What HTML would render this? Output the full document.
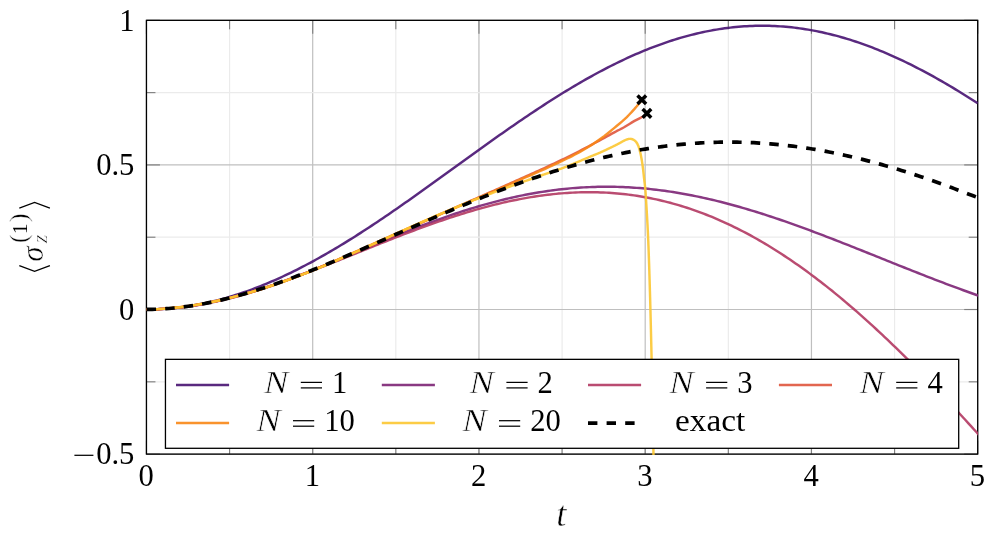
<!DOCTYPE html>
<html><head><meta charset="utf-8"><title>plot</title>
<style>html,body{margin:0;padding:0;background:#fff;}svg{display:block;will-change:transform;}text{font-family:"Liberation Serif",serif;fill:#000;}.it{font-style:italic;stroke:#fff;stroke-width:0.5px;}.th{stroke:#fff;stroke-width:0.45px;}</style></head><body>
<svg width="996" height="536" viewBox="0 0 996 536">
<rect width="996" height="536" fill="#fff"/>
<g stroke-width="1.2"><g stroke="#ebebeb"><line x1="229.57" y1="20.32" x2="229.57" y2="454.12"/><line x1="395.82" y1="20.32" x2="395.82" y2="454.12"/><line x1="562.08" y1="20.32" x2="562.08" y2="454.12"/><line x1="728.33" y1="20.32" x2="728.33" y2="454.12"/><line x1="894.58" y1="20.32" x2="894.58" y2="454.12"/></g><g stroke="#bfbfbf"><line x1="146.45" y1="20.32" x2="146.45" y2="454.12"/><line x1="312.70" y1="20.32" x2="312.70" y2="454.12"/><line x1="478.95" y1="20.32" x2="478.95" y2="454.12"/><line x1="645.20" y1="20.32" x2="645.20" y2="454.12"/><line x1="811.45" y1="20.32" x2="811.45" y2="454.12"/><line x1="977.70" y1="20.32" x2="977.70" y2="454.12"/></g><g stroke="#ebebeb"><line x1="146.45" y1="381.82" x2="977.7" y2="381.82"/><line x1="146.45" y1="237.22" x2="977.7" y2="237.22"/><line x1="146.45" y1="92.62" x2="977.7" y2="92.62"/></g><g stroke="#bfbfbf"><line x1="146.45" y1="454.12" x2="977.7" y2="454.12"/><line x1="146.45" y1="309.52" x2="977.7" y2="309.52"/><line x1="146.45" y1="164.92" x2="977.7" y2="164.92"/><line x1="146.45" y1="20.32" x2="977.7" y2="20.32"/></g></g>
<g stroke="#808080" stroke-width="1.15"><line x1="146.45" y1="454.12" x2="146.45" y2="440.62"/><line x1="146.45" y1="20.32" x2="146.45" y2="33.82"/><line x1="229.57" y1="454.12" x2="229.57" y2="445.12"/><line x1="229.57" y1="20.32" x2="229.57" y2="29.32"/><line x1="312.70" y1="454.12" x2="312.70" y2="440.62"/><line x1="312.70" y1="20.32" x2="312.70" y2="33.82"/><line x1="395.82" y1="454.12" x2="395.82" y2="445.12"/><line x1="395.82" y1="20.32" x2="395.82" y2="29.32"/><line x1="478.95" y1="454.12" x2="478.95" y2="440.62"/><line x1="478.95" y1="20.32" x2="478.95" y2="33.82"/><line x1="562.08" y1="454.12" x2="562.08" y2="445.12"/><line x1="562.08" y1="20.32" x2="562.08" y2="29.32"/><line x1="645.20" y1="454.12" x2="645.20" y2="440.62"/><line x1="645.20" y1="20.32" x2="645.20" y2="33.82"/><line x1="728.33" y1="454.12" x2="728.33" y2="445.12"/><line x1="728.33" y1="20.32" x2="728.33" y2="29.32"/><line x1="811.45" y1="454.12" x2="811.45" y2="440.62"/><line x1="811.45" y1="20.32" x2="811.45" y2="33.82"/><line x1="894.58" y1="454.12" x2="894.58" y2="445.12"/><line x1="894.58" y1="20.32" x2="894.58" y2="29.32"/><line x1="977.70" y1="454.12" x2="977.70" y2="440.62"/><line x1="977.70" y1="20.32" x2="977.70" y2="33.82"/><line x1="146.45" y1="454.12" x2="159.95" y2="454.12"/><line x1="977.7" y1="454.12" x2="964.20" y2="454.12"/><line x1="146.45" y1="381.82" x2="155.45" y2="381.82"/><line x1="977.7" y1="381.82" x2="968.70" y2="381.82"/><line x1="146.45" y1="309.52" x2="159.95" y2="309.52"/><line x1="977.7" y1="309.52" x2="964.20" y2="309.52"/><line x1="146.45" y1="237.22" x2="155.45" y2="237.22"/><line x1="977.7" y1="237.22" x2="968.70" y2="237.22"/><line x1="146.45" y1="164.92" x2="159.95" y2="164.92"/><line x1="977.7" y1="164.92" x2="964.20" y2="164.92"/><line x1="146.45" y1="92.62" x2="155.45" y2="92.62"/><line x1="977.7" y1="92.62" x2="968.70" y2="92.62"/><line x1="146.45" y1="20.32" x2="159.95" y2="20.32"/><line x1="977.7" y1="20.32" x2="964.20" y2="20.32"/></g>
<rect x="146.45" y="20.32" width="831.25" height="433.80" fill="none" stroke="#000" stroke-width="1.3"/>
<clipPath id="cp"><rect x="146" y="20" width="832" height="435"/></clipPath>
<g clip-path="url(#cp)" fill="none" stroke-linejoin="round">
<path d="M146.60,309.40 L149.38,309.39 L152.16,309.34 L154.94,309.27 L157.72,309.17 L160.50,309.04 L163.28,308.89 L166.06,308.70 L168.84,308.49 L171.62,308.25 L174.40,307.98 L177.18,307.68 L179.96,307.35 L182.73,307.00 L185.51,306.61 L188.29,306.20 L191.07,305.76 L193.85,305.30 L196.63,304.80 L199.41,304.28 L202.19,303.73 L204.97,303.15 L207.75,302.55 L210.53,301.92 L213.31,301.26 L216.09,300.57 L218.87,299.86 L221.65,299.12 L224.43,298.36 L227.21,297.57 L229.99,296.75 L232.77,295.91 L235.55,295.04 L238.33,294.14 L241.11,293.22 L243.89,292.27 L246.67,291.30 L249.45,290.31 L252.22,289.29 L255.00,288.24 L257.78,287.17 L260.56,286.08 L263.34,284.96 L266.12,283.82 L268.90,282.66 L271.68,281.47 L274.46,280.26 L277.24,279.03 L280.02,277.77 L282.80,276.49 L285.58,275.19 L288.36,273.87 L291.14,272.53 L293.92,271.17 L296.70,269.78 L299.48,268.38 L302.26,266.95 L305.04,265.51 L307.82,264.04 L310.60,262.56 L313.38,261.05 L316.16,259.53 L318.94,257.99 L321.71,256.43 L324.49,254.85 L327.27,253.26 L330.05,251.65 L332.83,250.02 L335.61,248.37 L338.39,246.71 L341.17,245.03 L343.95,243.34 L346.73,241.63 L349.51,239.91 L352.29,238.17 L355.07,236.42 L357.85,234.65 L360.63,232.87 L363.41,231.08 L366.19,229.28 L368.97,227.46 L371.75,225.63 L374.53,223.79 L377.31,221.93 L380.09,220.07 L382.87,218.20 L385.65,216.31 L388.43,214.42 L391.20,212.51 L393.98,210.60 L396.76,208.68 L399.54,206.75 L402.32,204.81 L405.10,202.87 L407.88,200.91 L410.66,198.96 L413.44,196.99 L416.22,195.02 L419.00,193.04 L421.78,191.06 L424.56,189.07 L427.34,187.08 L430.12,185.09 L432.90,183.09 L435.68,181.09 L438.46,179.08 L441.24,177.08 L444.02,175.07 L446.80,173.06 L449.58,171.05 L452.36,169.04 L455.14,167.03 L457.92,165.01 L460.69,163.00 L463.47,160.99 L466.25,158.98 L469.03,156.98 L471.81,154.97 L474.59,152.97 L477.37,150.97 L480.15,148.97 L482.93,146.98 L485.71,144.99 L488.49,143.01 L491.27,141.03 L494.05,139.05 L496.83,137.09 L499.61,135.12 L502.39,133.17 L505.17,131.22 L507.95,129.28 L510.73,127.35 L513.51,125.42 L516.29,123.50 L519.07,121.60 L521.85,119.70 L524.63,117.81 L527.41,115.93 L530.18,114.06 L532.96,112.20 L535.74,110.36 L538.52,108.52 L541.30,106.70 L544.08,104.89 L546.86,103.09 L549.64,101.30 L552.42,99.53 L555.20,97.77 L557.98,96.03 L560.76,94.30 L563.54,92.58 L566.32,90.88 L569.10,89.20 L571.88,87.53 L574.66,85.88 L577.44,84.24 L580.22,82.62 L583.00,81.02 L585.78,79.43 L588.56,77.86 L591.34,76.31 L594.12,74.78 L596.89,73.27 L599.67,71.78 L602.45,70.30 L605.23,68.85 L608.01,67.42 L610.79,66.00 L613.57,64.61 L616.35,63.23 L619.13,61.88 L621.91,60.55 L624.69,59.24 L627.47,57.95 L630.25,56.69 L633.03,55.44 L635.81,54.22 L638.59,53.03 L641.37,51.85 L644.15,50.70 L646.93,49.57 L649.71,48.47 L652.49,47.39 L655.27,46.33 L658.05,45.30 L660.83,44.29 L663.61,43.31 L666.38,42.35 L669.16,41.42 L671.94,40.51 L674.72,39.63 L677.50,38.78 L680.28,37.95 L683.06,37.14 L685.84,36.37 L688.62,35.61 L691.40,34.89 L694.18,34.19 L696.96,33.52 L699.74,32.88 L702.52,32.26 L705.30,31.67 L708.08,31.11 L710.86,30.58 L713.64,30.07 L716.42,29.59 L719.20,29.14 L721.98,28.71 L724.76,28.32 L727.54,27.95 L730.32,27.61 L733.10,27.30 L735.87,27.02 L738.65,26.76 L741.43,26.53 L744.21,26.34 L746.99,26.17 L749.77,26.02 L752.55,25.91 L755.33,25.83 L758.11,25.77 L760.89,25.74 L763.67,25.75 L766.45,25.78 L769.23,25.83 L772.01,25.92 L774.79,26.04 L777.57,26.18 L780.35,26.35 L783.13,26.55 L785.91,26.78 L788.69,27.04 L791.47,27.32 L794.25,27.64 L797.03,27.98 L799.81,28.35 L802.59,28.75 L805.36,29.17 L808.14,29.63 L810.92,30.11 L813.70,30.62 L816.48,31.16 L819.26,31.72 L822.04,32.31 L824.82,32.93 L827.60,33.58 L830.38,34.25 L833.16,34.95 L835.94,35.68 L838.72,36.43 L841.50,37.21 L844.28,38.01 L847.06,38.85 L849.84,39.70 L852.62,40.59 L855.40,41.50 L858.18,42.43 L860.96,43.39 L863.74,44.37 L866.52,45.38 L869.30,46.42 L872.08,47.48 L874.85,48.56 L877.63,49.66 L880.41,50.79 L883.19,51.95 L885.97,53.13 L888.75,54.33 L891.53,55.55 L894.31,56.79 L897.09,58.06 L899.87,59.35 L902.65,60.66 L905.43,61.99 L908.21,63.35 L910.99,64.72 L913.77,66.12 L916.55,67.54 L919.33,68.97 L922.11,70.43 L924.89,71.90 L927.67,73.40 L930.45,74.91 L933.23,76.44 L936.01,78.00 L938.79,79.56 L941.57,81.15 L944.34,82.75 L947.12,84.38 L949.90,86.01 L952.68,87.67 L955.46,89.34 L958.24,91.02 L961.02,92.73 L963.80,94.44 L966.58,96.17 L969.36,97.92 L972.14,99.68 L974.92,101.45 L977.70,103.24" stroke="#471271" stroke-opacity="0.9" stroke-width="2.45"/>
<path d="M146.60,309.40 L149.39,309.39 L152.17,309.35 L154.96,309.28 L157.74,309.19 L160.53,309.07 L163.31,308.93 L166.10,308.76 L168.88,308.56 L171.67,308.34 L174.45,308.09 L177.24,307.82 L180.02,307.52 L182.81,307.20 L185.59,306.86 L188.38,306.49 L191.16,306.09 L193.95,305.67 L196.73,305.23 L199.52,304.76 L202.30,304.28 L205.09,303.76 L207.87,303.23 L210.66,302.67 L213.44,302.10 L216.23,301.50 L219.01,300.88 L221.80,300.23 L224.58,299.57 L227.37,298.89 L230.15,298.19 L232.94,297.47 L235.73,296.73 L238.51,295.97 L241.30,295.19 L244.08,294.39 L246.87,293.58 L249.65,292.75 L252.44,291.90 L255.22,291.04 L258.01,290.16 L260.79,289.26 L263.58,288.35 L266.36,287.43 L269.15,286.49 L271.93,285.54 L274.72,284.57 L277.50,283.59 L280.29,282.60 L283.07,281.59 L285.86,280.58 L288.64,279.55 L291.43,278.51 L294.21,277.46 L297.00,276.41 L299.78,275.34 L302.57,274.26 L305.35,273.17 L308.14,272.08 L310.92,270.98 L313.71,269.87 L316.49,268.75 L319.28,267.63 L322.06,266.50 L324.85,265.37 L327.64,264.23 L330.42,263.09 L333.21,261.94 L335.99,260.79 L338.78,259.63 L341.56,258.47 L344.35,257.31 L347.13,256.15 L349.92,254.99 L352.70,253.82 L355.49,252.65 L358.27,251.49 L361.06,250.32 L363.84,249.16 L366.63,247.99 L369.41,246.83 L372.20,245.67 L374.98,244.51 L377.77,243.35 L380.55,242.20 L383.34,241.05 L386.12,239.90 L388.91,238.76 L391.69,237.62 L394.48,236.48 L397.26,235.36 L400.05,234.23 L402.83,233.12 L405.62,232.01 L408.40,230.90 L411.19,229.81 L413.98,228.72 L416.76,227.64 L419.55,226.57 L422.33,225.50 L425.12,224.45 L427.90,223.40 L430.69,222.37 L433.47,221.34 L436.26,220.32 L439.04,219.32 L441.83,218.32 L444.61,217.34 L447.40,216.37 L450.18,215.40 L452.97,214.46 L455.75,213.52 L458.54,212.59 L461.32,211.68 L464.11,210.79 L466.89,209.90 L469.68,209.03 L472.46,208.17 L475.25,207.33 L478.03,206.50 L480.82,205.68 L483.60,204.88 L486.39,204.10 L489.17,203.33 L491.96,202.58 L494.74,201.84 L497.53,201.11 L500.32,200.41 L503.10,199.72 L505.89,199.04 L508.67,198.39 L511.46,197.75 L514.24,197.12 L517.03,196.51 L519.81,195.92 L522.60,195.35 L525.38,194.80 L528.17,194.26 L530.95,193.74 L533.74,193.24 L536.52,192.76 L539.31,192.29 L542.09,191.84 L544.88,191.42 L547.66,191.01 L550.45,190.61 L553.23,190.24 L556.02,189.89 L558.80,189.55 L561.59,189.23 L564.37,188.94 L567.16,188.66 L569.94,188.40 L572.73,188.15 L575.51,187.93 L578.30,187.73 L581.08,187.55 L583.87,187.38 L586.65,187.24 L589.44,187.11 L592.23,187.00 L595.01,186.91 L597.80,186.84 L600.58,186.79 L603.37,186.76 L606.15,186.75 L608.94,186.76 L611.72,186.79 L614.51,186.83 L617.29,186.90 L620.08,186.98 L622.86,187.08 L625.65,187.20 L628.43,187.34 L631.22,187.50 L634.00,187.68 L636.79,187.87 L639.57,188.09 L642.36,188.32 L645.14,188.57 L647.93,188.84 L650.71,189.13 L653.50,189.43 L656.28,189.76 L659.07,190.10 L661.85,190.45 L664.64,190.83 L667.42,191.22 L670.21,191.63 L672.99,192.06 L675.78,192.50 L678.57,192.97 L681.35,193.44 L684.14,193.94 L686.92,194.45 L689.71,194.98 L692.49,195.52 L695.28,196.08 L698.06,196.65 L700.85,197.24 L703.63,197.85 L706.42,198.47 L709.20,199.10 L711.99,199.75 L714.77,200.42 L717.56,201.10 L720.34,201.79 L723.13,202.50 L725.91,203.22 L728.70,203.96 L731.48,204.71 L734.27,205.47 L737.05,206.24 L739.84,207.03 L742.62,207.83 L745.41,208.64 L748.19,209.47 L750.98,210.31 L753.76,211.15 L756.55,212.01 L759.33,212.89 L762.12,213.77 L764.91,214.66 L767.69,215.56 L770.48,216.48 L773.26,217.40 L776.05,218.33 L778.83,219.28 L781.62,220.23 L784.40,221.19 L787.19,222.16 L789.97,223.14 L792.76,224.13 L795.54,225.12 L798.33,226.12 L801.11,227.13 L803.90,228.15 L806.68,229.18 L809.47,230.21 L812.25,231.25 L815.04,232.29 L817.82,233.34 L820.61,234.40 L823.39,235.46 L826.18,236.53 L828.96,237.60 L831.75,238.68 L834.53,239.76 L837.32,240.84 L840.10,241.93 L842.89,243.02 L845.67,244.12 L848.46,245.22 L851.24,246.32 L854.03,247.43 L856.82,248.54 L859.60,249.65 L862.39,250.76 L865.17,251.87 L867.96,252.99 L870.74,254.10 L873.53,255.22 L876.31,256.34 L879.10,257.45 L881.88,258.57 L884.67,259.69 L887.45,260.81 L890.24,261.93 L893.02,263.04 L895.81,264.16 L898.59,265.27 L901.38,266.38 L904.16,267.49 L906.95,268.60 L909.73,269.71 L912.52,270.81 L915.30,271.91 L918.09,273.01 L920.87,274.10 L923.66,275.19 L926.44,276.28 L929.23,277.36 L932.01,278.44 L934.80,279.52 L937.58,280.59 L940.37,281.65 L943.16,282.71 L945.94,283.77 L948.73,284.82 L951.51,285.86 L954.30,286.90 L957.08,287.93 L959.87,288.96 L962.65,289.98 L965.44,290.99 L968.22,292.00 L971.01,293.00 L973.79,293.99 L976.58,294.98 L979.36,295.95" stroke="#7c2374" stroke-opacity="0.9" stroke-width="2.45"/>
<path d="M146.60,309.40 L149.39,309.39 L152.17,309.34 L154.96,309.27 L157.74,309.17 L160.53,309.04 L163.31,308.89 L166.10,308.70 L168.88,308.49 L171.67,308.26 L174.45,307.99 L177.24,307.71 L180.02,307.39 L182.81,307.05 L185.59,306.69 L188.38,306.30 L191.16,305.89 L193.95,305.46 L196.73,305.00 L199.52,304.52 L202.30,304.02 L205.09,303.49 L207.87,302.95 L210.66,302.38 L213.44,301.79 L216.23,301.18 L219.01,300.55 L221.80,299.90 L224.58,299.24 L227.37,298.55 L230.15,297.85 L232.94,297.12 L235.73,296.38 L238.51,295.63 L241.30,294.85 L244.08,294.06 L246.87,293.25 L249.65,292.43 L252.44,291.59 L255.22,290.74 L258.01,289.87 L260.79,288.99 L263.58,288.10 L266.36,287.19 L269.15,286.27 L271.93,285.34 L274.72,284.39 L277.50,283.43 L280.29,282.46 L283.07,281.49 L285.86,280.50 L288.64,279.50 L291.43,278.49 L294.21,277.47 L297.00,276.44 L299.78,275.41 L302.57,274.36 L305.35,273.31 L308.14,272.25 L310.92,271.19 L313.71,270.11 L316.49,269.04 L319.28,267.95 L322.06,266.86 L324.85,265.77 L327.64,264.67 L330.42,263.57 L333.21,262.46 L335.99,261.35 L338.78,260.24 L341.56,259.13 L344.35,258.01 L347.13,256.89 L349.92,255.77 L352.70,254.65 L355.49,253.53 L358.27,252.41 L361.06,251.28 L363.84,250.16 L366.63,249.04 L369.41,247.92 L372.20,246.81 L374.98,245.69 L377.77,244.58 L380.55,243.47 L383.34,242.36 L386.12,241.26 L388.91,240.16 L391.69,239.06 L394.48,237.97 L397.26,236.89 L400.05,235.81 L402.83,234.73 L405.62,233.67 L408.40,232.60 L411.19,231.55 L413.98,230.50 L416.76,229.46 L419.55,228.43 L422.33,227.40 L425.12,226.39 L427.90,225.38 L430.69,224.38 L433.47,223.39 L436.26,222.41 L439.04,221.44 L441.83,220.48 L444.61,219.54 L447.40,218.60 L450.18,217.67 L452.97,216.76 L455.75,215.86 L458.54,214.97 L461.32,214.09 L464.11,213.23 L466.89,212.38 L469.68,211.54 L472.46,210.72 L475.25,209.91 L478.03,209.12 L480.82,208.34 L483.60,207.57 L486.39,206.82 L489.17,206.09 L491.96,205.37 L494.74,204.67 L497.53,203.99 L500.32,203.32 L503.10,202.67 L505.89,202.03 L508.67,201.42 L511.46,200.82 L514.24,200.24 L517.03,199.68 L519.81,199.13 L522.60,198.61 L525.38,198.10 L528.17,197.61 L530.95,197.15 L533.74,196.70 L536.52,196.27 L539.31,195.86 L542.09,195.48 L544.88,195.11 L547.66,194.76 L550.45,194.44 L553.23,194.13 L556.02,193.85 L558.80,193.59 L561.59,193.35 L564.37,193.14 L567.16,192.94 L569.94,192.77 L572.73,192.62 L575.51,192.49 L578.30,192.39 L581.08,192.31 L583.87,192.25 L586.65,192.22 L589.44,192.21 L592.23,192.22 L595.01,192.26 L597.80,192.32 L600.58,192.41 L603.37,192.52 L606.15,192.65 L608.94,192.81 L611.72,193.00 L614.51,193.21 L617.29,193.44 L620.08,193.70 L622.86,193.99 L625.65,194.30 L628.43,194.63 L631.22,195.00 L634.00,195.38 L636.79,195.80 L639.57,196.24 L642.36,196.70 L645.14,197.19 L647.93,197.71 L650.71,198.26 L653.50,198.83 L656.28,199.42 L659.07,200.05 L661.85,200.70 L664.64,201.37 L667.42,202.08 L670.21,202.81 L672.99,203.56 L675.78,204.35 L678.57,205.16 L681.35,205.99 L684.14,206.86 L686.92,207.75 L689.71,208.67 L692.49,209.61 L695.28,210.58 L698.06,211.58 L700.85,212.61 L703.63,213.66 L706.42,214.74 L709.20,215.85 L711.99,216.99 L714.77,218.15 L717.56,219.34 L720.34,220.55 L723.13,221.80 L725.91,223.07 L728.70,224.36 L731.48,225.69 L734.27,227.04 L737.05,228.41 L739.84,229.82 L742.62,231.25 L745.41,232.70 L748.19,234.19 L750.98,235.70 L753.76,237.23 L756.55,238.80 L759.33,240.39 L762.12,242.00 L764.91,243.64 L767.69,245.31 L770.48,247.00 L773.26,248.72 L776.05,250.47 L778.83,252.24 L781.62,254.04 L784.40,255.86 L787.19,257.70 L789.97,259.58 L792.76,261.47 L795.54,263.40 L798.33,265.34 L801.11,267.31 L803.90,269.31 L806.68,271.33 L809.47,273.37 L812.25,275.44 L815.04,277.54 L817.82,279.65 L820.61,281.79 L823.39,283.95 L826.18,286.14 L828.96,288.35 L831.75,290.58 L834.53,292.84 L837.32,295.11 L840.10,297.41 L842.89,299.73 L845.67,302.08 L848.46,304.44 L851.24,306.83 L854.03,309.24 L856.82,311.67 L859.60,314.12 L862.39,316.59 L865.17,319.08 L867.96,321.59 L870.74,324.12 L873.53,326.67 L876.31,329.24 L879.10,331.83 L881.88,334.43 L884.67,337.06 L887.45,339.70 L890.24,342.37 L893.02,345.05 L895.81,347.74 L898.59,350.46 L901.38,353.19 L904.16,355.94 L906.95,358.71 L909.73,361.49 L912.52,364.29 L915.30,367.10 L918.09,369.93 L920.87,372.77 L923.66,375.63 L926.44,378.50 L929.23,381.39 L932.01,384.29 L934.80,387.20 L937.58,390.13 L940.37,393.06 L943.16,396.02 L945.94,398.98 L948.73,401.96 L951.51,404.94 L954.30,407.94 L957.08,410.95 L959.87,413.97 L962.65,417.00 L965.44,420.03 L968.22,423.08 L971.01,426.14 L973.79,429.20 L976.58,432.28 L979.36,435.36" stroke="#b23862" stroke-opacity="0.9" stroke-width="2.45"/>
<path d="M146.60,309.40 L149.12,309.40 L151.63,309.37 L154.15,309.31 L156.66,309.23 L159.18,309.13 L161.69,309.00 L164.21,308.85 L166.72,308.67 L169.24,308.48 L171.75,308.26 L174.27,308.02 L176.78,307.77 L179.30,307.49 L181.81,307.19 L184.33,306.87 L186.84,306.53 L189.36,306.17 L191.87,305.80 L194.39,305.41 L196.90,304.99 L199.42,304.56 L201.93,304.12 L204.45,303.65 L206.96,303.17 L209.48,302.67 L211.99,302.15 L214.51,301.62 L217.02,301.07 L219.54,300.51 L222.05,299.93 L224.57,299.33 L227.08,298.72 L229.60,298.10 L232.11,297.45 L234.63,296.80 L237.14,296.13 L239.66,295.44 L242.17,294.74 L244.69,294.03 L247.20,293.30 L249.72,292.56 L252.23,291.81 L254.75,291.04 L257.26,290.26 L259.78,289.47 L262.29,288.66 L264.81,287.85 L267.32,287.02 L269.84,286.18 L272.35,285.32 L274.87,284.46 L277.38,283.58 L279.90,282.70 L282.41,281.80 L284.93,280.89 L287.44,279.97 L289.96,279.05 L292.47,278.11 L294.99,277.16 L297.50,276.20 L300.02,275.24 L302.53,274.26 L305.05,273.28 L307.56,272.29 L310.08,271.29 L312.59,270.29 L315.11,269.26 L317.62,268.23 L320.14,267.20 L322.65,266.15 L325.17,265.10 L327.68,264.05 L330.20,262.99 L332.71,261.92 L335.23,260.85 L337.74,259.77 L340.26,258.69 L342.77,257.60 L345.29,256.51 L347.80,255.41 L350.32,254.32 L352.83,253.21 L355.35,252.11 L357.86,251.00 L360.38,249.89 L362.89,248.77 L365.41,247.66 L367.92,246.54 L370.44,245.42 L372.95,244.30 L375.47,243.18 L377.98,242.05 L380.50,240.93 L383.01,239.80 L385.53,238.67 L388.04,237.55 L390.56,236.42 L393.07,235.29 L395.59,234.16 L398.10,233.04 L400.62,231.91 L403.13,230.78 L405.65,229.66 L408.16,228.53 L410.68,227.41 L413.19,226.28 L415.71,225.16 L418.22,224.04 L420.74,222.92 L423.25,221.80 L425.77,220.68 L428.28,219.56 L430.80,218.45 L433.31,217.33 L435.83,216.22 L438.34,215.11 L440.86,213.99 L443.37,212.88 L445.89,211.78 L448.40,210.67 L450.92,209.56 L453.43,208.45 L455.95,207.35 L458.46,206.24 L460.98,205.14 L463.49,204.03 L466.01,202.93 L468.52,201.83 L471.04,200.72 L473.55,199.62 L476.07,198.52 L478.58,197.41 L481.10,196.31 L483.61,195.20 L486.13,194.09 L488.64,192.98 L491.16,191.87 L493.67,190.76 L496.19,189.65 L498.70,188.53 L501.22,187.41 L503.73,186.29 L506.25,185.17 L508.76,184.04 L511.28,182.91 L513.79,181.78 L516.31,180.64 L518.82,179.50 L521.34,178.38 L523.85,177.28 L526.37,176.17 L528.88,175.06 L531.40,173.94 L533.91,172.81 L536.43,171.68 L538.94,170.54 L541.46,169.40 L543.97,168.24 L546.49,167.08 L549.00,165.91 L551.52,164.73 L554.03,163.55 L556.55,162.36 L559.06,161.15 L561.58,159.95 L564.09,158.73 L566.61,157.52 L569.12,156.29 L571.64,155.05 L574.15,153.80 L576.67,152.54 L579.18,151.25 L581.70,149.95 L584.21,148.63 L586.73,147.31 L589.24,145.97 L591.76,144.63 L594.27,143.28 L596.79,141.92 L599.30,140.56 L601.82,139.19 L604.33,137.82 L606.85,136.45 L609.36,135.07 L611.88,133.69 L614.39,132.32 L616.91,130.97 L619.42,129.73 L621.94,128.46 L624.45,127.04 L626.97,125.52 L629.48,123.95 L632.00,122.40 L634.51,120.93 L637.03,119.60 L639.54,118.30 L642.06,117.03 L644.57,115.76 L647.09,114.52" stroke="#df553d" stroke-opacity="0.9" stroke-width="2.45"/>
<path d="M146.60,309.40 L149.09,309.39 L151.58,309.35 L154.06,309.28 L156.55,309.17 L159.04,309.05 L161.53,308.89 L164.02,308.71 L166.51,308.52 L168.99,308.29 L171.48,308.05 L173.97,307.79 L176.46,307.52 L178.95,307.22 L181.44,306.91 L183.92,306.58 L186.41,306.24 L188.90,305.88 L191.39,305.51 L193.88,305.12 L196.37,304.72 L198.85,304.30 L201.34,303.87 L203.83,303.42 L206.32,302.96 L208.81,302.49 L211.30,302.00 L213.78,301.50 L216.27,300.99 L218.76,300.46 L221.25,299.91 L223.74,299.35 L226.23,298.78 L228.71,298.19 L231.20,297.59 L233.69,296.98 L236.18,296.35 L238.67,295.70 L241.15,295.04 L243.64,294.37 L246.13,293.68 L248.62,292.98 L251.11,292.26 L253.60,291.53 L256.08,290.78 L258.57,290.02 L261.06,289.25 L263.55,288.46 L266.04,287.65 L268.53,286.84 L271.01,286.01 L273.50,285.16 L275.99,284.31 L278.48,283.44 L280.97,282.56 L283.46,281.66 L285.94,280.76 L288.43,279.84 L290.92,278.91 L293.41,277.97 L295.90,277.01 L298.39,276.05 L300.87,275.08 L303.36,274.10 L305.85,273.11 L308.34,272.10 L310.83,271.09 L313.32,270.08 L315.80,269.04 L318.29,268.00 L320.78,266.95 L323.27,265.89 L325.76,264.83 L328.25,263.76 L330.73,262.69 L333.22,261.61 L335.71,260.53 L338.20,259.44 L340.69,258.35 L343.17,257.25 L345.66,256.15 L348.15,255.05 L350.64,253.94 L353.13,252.84 L355.62,251.73 L358.10,250.62 L360.59,249.51 L363.08,248.39 L365.57,247.28 L368.06,246.17 L370.55,245.05 L373.03,243.94 L375.52,242.82 L378.01,241.71 L380.50,240.60 L382.99,239.48 L385.48,238.37 L387.96,237.26 L390.45,236.15 L392.94,235.04 L395.43,233.94 L397.92,232.83 L400.41,231.73 L402.89,230.63 L405.38,229.53 L407.87,228.43 L410.36,227.34 L412.85,226.24 L415.34,225.15 L417.82,224.06 L420.31,222.97 L422.80,221.89 L425.29,220.80 L427.78,219.72 L430.26,218.64 L432.75,217.56 L435.24,216.48 L437.73,215.40 L440.22,214.33 L442.71,213.25 L445.19,212.18 L447.68,211.11 L450.17,210.03 L452.66,208.96 L455.15,207.89 L457.64,206.82 L460.12,205.76 L462.61,204.69 L465.10,203.62 L467.59,202.55 L470.08,201.48 L472.57,200.41 L475.05,199.34 L477.54,198.27 L480.03,197.20 L482.52,196.13 L485.01,195.06 L487.50,193.98 L489.98,192.91 L492.47,191.83 L494.96,190.75 L497.45,189.68 L499.94,188.59 L502.43,187.51 L504.91,186.43 L507.40,185.34 L509.89,184.25 L512.38,183.16 L514.87,182.06 L517.35,180.96 L519.84,179.86 L522.33,178.80 L524.82,177.73 L527.31,176.67 L529.80,175.59 L532.28,174.51 L534.77,173.42 L537.26,172.33 L539.75,171.23 L542.24,170.12 L544.73,169.01 L547.21,167.89 L549.70,166.75 L552.19,165.61 L554.68,164.46 L557.17,163.30 L559.66,162.12 L562.14,160.93 L564.63,159.73 L567.12,158.52 L569.61,157.29 L572.10,156.04 L574.59,154.77 L577.07,153.46 L579.56,152.13 L582.05,150.75 L584.54,149.30 L587.03,147.79 L589.52,146.24 L592.00,144.66 L594.49,143.02 L596.98,141.33 L599.47,139.57 L601.96,137.77 L604.45,135.91 L606.93,133.97 L609.42,131.96 L611.91,129.89 L614.40,127.82 L616.89,125.77 L619.37,123.73 L621.86,121.64 L624.35,119.42 L626.84,117.02 L629.33,114.50 L631.82,111.87 L634.30,109.11 L636.79,106.21 L639.28,103.17 L641.77,99.97" stroke="#f88716" stroke-opacity="0.9" stroke-width="2.45"/>
<path d="M146.60,309.40 L148.97,309.40 L151.35,309.37 L153.72,309.31 L156.10,309.23 L158.47,309.13 L160.85,309.01 L163.22,308.86 L165.60,308.70 L167.97,308.51 L170.35,308.30 L172.72,308.08 L175.10,307.83 L177.47,307.57 L179.85,307.29 L182.22,306.99 L184.60,306.68 L186.97,306.35 L189.34,306.00 L191.72,305.64 L194.09,305.26 L196.47,304.87 L198.84,304.46 L201.22,304.03 L203.59,303.60 L205.97,303.14 L208.34,302.68 L210.72,302.20 L213.09,301.70 L215.47,301.20 L217.84,300.68 L220.22,300.14 L222.59,299.60 L224.96,299.04 L227.34,298.46 L229.71,297.88 L232.09,297.28 L234.46,296.67 L236.84,296.05 L239.21,295.42 L241.59,294.78 L243.96,294.12 L246.34,293.45 L248.71,292.77 L251.09,292.08 L253.46,291.38 L255.84,290.66 L258.21,289.94 L260.59,289.20 L262.96,288.46 L265.33,287.70 L267.71,286.93 L270.08,286.15 L272.46,285.36 L274.83,284.56 L277.21,283.75 L279.58,282.93 L281.96,282.10 L284.33,281.26 L286.71,280.41 L289.08,279.55 L291.46,278.68 L293.83,277.81 L296.21,276.92 L298.58,276.02 L300.95,275.12 L303.33,274.20 L305.70,273.28 L308.08,272.35 L310.45,271.41 L312.83,270.46 L315.20,269.50 L317.58,268.53 L319.95,267.55 L322.33,266.57 L324.70,265.58 L327.08,264.58 L329.45,263.57 L331.83,262.56 L334.20,261.55 L336.58,260.52 L338.95,259.49 L341.32,258.46 L343.70,257.42 L346.07,256.38 L348.45,255.33 L350.82,254.27 L353.20,253.22 L355.57,252.16 L357.95,251.09 L360.32,250.02 L362.70,248.95 L365.07,247.88 L367.45,246.80 L369.82,245.72 L372.20,244.64 L374.57,243.56 L376.95,242.48 L379.32,241.39 L381.69,240.31 L384.07,239.22 L386.44,238.14 L388.82,237.05 L391.19,235.96 L393.57,234.88 L395.94,233.79 L398.32,232.71 L400.69,231.62 L403.07,230.54 L405.44,229.46 L407.82,228.39 L410.19,227.31 L412.57,226.24 L414.94,225.17 L417.31,224.10 L419.69,223.04 L422.06,221.98 L424.44,220.93 L426.81,219.87 L429.19,218.83 L431.56,217.78 L433.94,216.74 L436.31,215.71 L438.69,214.68 L441.06,213.66 L443.44,212.64 L445.81,211.63 L448.19,210.62 L450.56,209.61 L452.94,208.62 L455.31,207.63 L457.68,206.64 L460.06,205.66 L462.43,204.69 L464.81,203.72 L467.18,202.76 L469.56,201.81 L471.93,200.86 L474.31,199.92 L476.68,198.99 L479.06,198.06 L481.43,197.13 L483.81,196.22 L486.18,195.31 L488.56,194.40 L490.93,193.50 L493.30,192.61 L495.68,191.72 L498.05,190.84 L500.43,189.96 L502.80,189.09 L505.18,188.22 L507.55,187.36 L509.93,186.50 L512.30,185.65 L514.68,184.80 L517.05,183.95 L519.43,183.11 L521.80,182.27 L524.18,181.43 L526.55,180.59 L528.93,179.76 L531.30,178.93 L533.67,178.09 L536.05,177.26 L538.42,176.43 L540.80,175.60 L543.17,174.77 L543.49,174.66 L543.80,174.55 L544.12,174.45 L544.43,174.34 L544.75,174.23 L545.07,174.13 L545.38,174.02 L545.70,173.92 L546.01,173.81 L546.33,173.70 L546.64,173.60 L546.96,173.49 L547.28,173.39 L547.59,173.28 L547.91,173.18 L548.22,173.07 L548.54,172.97 L548.85,172.86 L549.17,172.75 L549.49,172.65 L549.80,172.54 L550.12,172.44 L550.43,172.33 L550.75,172.23 L551.06,172.12 L551.38,172.01 L551.69,171.91 L552.01,171.80 L552.33,171.70 L552.64,171.59 L552.96,171.48 L553.27,171.38 L553.59,171.27 L553.90,171.16 L554.22,171.05 L554.53,170.95 L554.85,170.84 L555.16,170.73 L555.48,170.62 L555.79,170.51 L556.11,170.40 L556.42,170.30 L556.73,170.19 L557.05,170.08 L557.36,169.97 L557.68,169.86 L557.99,169.75 L558.30,169.64 L558.62,169.52 L558.93,169.41 L559.25,169.30 L559.56,169.19 L559.87,169.08 L560.18,168.96 L560.50,168.85 L560.81,168.74 L561.12,168.62 L561.44,168.51 L561.75,168.39 L562.06,168.28 L562.37,168.16 L562.68,168.05 L562.99,167.93 L563.31,167.81 L563.62,167.69 L563.93,167.58 L564.24,167.46 L564.55,167.34 L564.86,167.22 L565.17,167.10 L565.48,166.98 L565.79,166.86 L566.10,166.74 L566.41,166.62 L566.72,166.50 L567.03,166.37 L567.34,166.25 L567.65,166.13 L567.96,166.01 L568.27,165.88 L568.58,165.76 L568.89,165.63 L569.20,165.51 L569.50,165.39 L569.81,165.26 L570.12,165.14 L570.43,165.01 L570.74,164.88 L571.05,164.76 L571.35,164.63 L571.66,164.51 L571.97,164.38 L572.28,164.25 L572.59,164.13 L572.89,164.00 L573.20,163.87 L573.51,163.74 L573.82,163.61 L574.12,163.49 L574.43,163.36 L574.74,163.23 L575.04,163.10 L575.35,162.97 L575.66,162.84 L575.96,162.71 L576.27,162.58 L576.58,162.45 L576.88,162.32 L577.19,162.19 L577.50,162.06 L577.80,161.93 L578.11,161.80 L578.42,161.67 L578.72,161.54 L579.03,161.41 L579.34,161.28 L579.64,161.15 L579.95,161.02 L580.25,160.89 L580.56,160.76 L580.87,160.63 L581.17,160.50 L581.48,160.37 L581.79,160.24 L582.09,160.11 L582.40,159.97 L582.70,159.84 L583.01,159.71 L583.32,159.58 L583.62,159.45 L583.93,159.32 L584.23,159.19 L584.54,159.06 L584.85,158.93 L585.15,158.80 L585.46,158.67 L585.76,158.54 L586.07,158.41 L586.38,158.28 L586.68,158.15 L586.99,158.02 L587.30,157.89 L587.60,157.76 L587.91,157.63 L588.21,157.50 L588.52,157.37 L588.83,157.24 L589.13,157.11 L589.44,156.98 L589.75,156.85 L590.06,156.72 L590.36,156.59 L590.67,156.46 L590.98,156.34 L591.28,156.21 L591.59,156.08 L591.90,155.95 L592.21,155.83 L592.51,155.70 L592.82,155.57 L593.13,155.45 L593.44,155.32 L593.75,155.19 L594.05,155.07 L594.36,154.94 L594.67,154.82 L594.98,154.69 L595.29,154.57 L595.60,154.44 L595.90,154.31 L596.21,154.19 L596.52,154.06 L596.83,153.94 L597.14,153.81 L597.44,153.68 L597.75,153.55 L598.06,153.43 L598.36,153.30 L598.67,153.17 L598.98,153.04 L599.28,152.91 L599.59,152.78 L599.90,152.65 L600.20,152.51 L600.51,152.38 L600.81,152.25 L601.11,152.11 L601.42,151.97 L601.72,151.84 L602.03,151.70 L602.33,151.56 L602.63,151.43 L602.93,151.29 L603.24,151.15 L603.54,151.01 L603.84,150.87 L604.14,150.73 L604.44,150.59 L604.75,150.45 L605.05,150.30 L605.35,150.16 L605.65,150.02 L605.95,149.88 L606.25,149.73 L606.55,149.59 L606.85,149.45 L607.15,149.31 L607.45,149.16 L607.75,149.02 L608.05,148.87 L608.35,148.73 L608.65,148.59 L608.95,148.44 L609.25,148.30 L609.55,148.16 L609.85,148.01 L610.15,147.87 L610.45,147.72 L610.75,147.58 L611.05,147.43 L611.35,147.29 L611.65,147.15 L611.95,147.00 L612.25,146.85 L612.55,146.71 L612.85,146.56 L613.15,146.42 L613.45,146.27 L613.75,146.12 L614.05,145.98 L614.34,145.83 L614.64,145.68 L614.94,145.53 L615.24,145.39 L615.54,145.24 L615.84,145.09 L616.14,144.94 L616.43,144.79 L616.73,144.64 L617.03,144.48 L617.32,144.33 L617.62,144.18 L617.91,144.03 L618.21,143.87 L618.50,143.71 L618.79,143.56 L619.09,143.40 L619.38,143.24 L619.67,143.08 L619.96,142.92 L620.25,142.76 L620.54,142.60 L620.83,142.43 L621.11,142.27 L621.40,142.11 L621.69,141.94 L621.98,141.78 L622.27,141.62 L622.56,141.46 L622.85,141.30 L623.14,141.14 L623.43,140.98 L623.73,140.83 L624.03,140.68 L624.32,140.53 L624.63,140.38 L624.93,140.24 L625.24,140.10 L625.55,139.97 L625.86,139.83 L626.18,139.71 L626.50,139.58 L626.82,139.47 L627.14,139.36 L627.47,139.26 L627.79,139.17 L628.12,139.09 L628.45,139.01 L628.78,138.95 L629.12,138.90 L629.45,138.87 L629.78,138.85 L630.11,138.84 L630.44,138.85 L630.77,138.87 L631.10,138.91 L631.43,138.97 L631.75,139.05 L632.07,139.14 L632.39,139.25 L632.71,139.37 L633.02,139.51 L633.32,139.66 L633.62,139.82 L633.91,140.00 L634.20,140.18 L634.47,140.38 L634.74,140.58 L635.00,140.80 L635.71,141.48 L636.38,142.30 L636.99,143.22 L637.53,144.19 L638.01,145.17 L638.42,146.12 L638.77,147.11 L639.10,148.12 L639.39,149.15 L639.67,150.18 L639.93,151.22 L640.18,152.24 L640.43,153.27 L640.66,154.30 L640.88,155.34 L641.09,156.38 L641.29,157.42 L641.48,158.46 L641.67,159.50 L641.84,160.54 L642.01,161.59 L642.18,162.64 L642.33,163.68 L642.48,164.73 L642.63,165.78 L642.77,166.83 L642.90,167.88 L643.03,168.93 L643.16,169.98 L643.28,171.03 L643.40,172.08 L643.51,173.13 L643.63,174.19 L643.74,175.24 L643.85,176.29 L643.97,177.34 L644.09,178.40 L644.21,179.45 L644.33,180.50 L644.46,181.55 L644.59,182.60 L644.71,183.65 L644.84,184.71 L644.96,185.76 L645.07,186.81 L645.18,187.86 L645.28,188.92 L645.36,189.97 L645.45,191.02 L645.53,192.08 L645.61,193.13 L645.68,194.19 L645.76,195.25 L645.83,196.30 L645.89,197.36 L645.96,198.42 L646.03,199.47 L646.09,200.53 L646.15,201.59 L646.22,202.64 L646.28,203.70 L646.35,204.76 L646.41,205.81 L646.47,206.87 L646.54,207.93 L646.60,208.98 L646.66,210.04 L646.73,211.10 L646.79,212.15 L646.85,213.21 L646.91,214.27 L646.97,215.32 L647.03,216.38 L647.10,217.44 L647.15,218.49 L647.21,219.55 L647.27,220.61 L647.33,221.66 L647.39,222.72 L647.44,223.78 L647.50,224.84 L647.56,225.89 L647.61,226.95 L647.66,228.01 L647.72,229.06 L647.77,230.12 L647.82,231.18 L647.87,232.24 L647.92,233.29 L647.97,234.35 L648.02,235.41 L648.06,236.46 L648.11,237.52 L648.15,238.58 L648.20,239.64 L648.24,240.69 L648.29,241.75 L648.33,242.81 L648.37,243.87 L648.41,244.92 L648.46,245.98 L648.50,247.04 L648.54,248.10 L648.58,249.16 L648.62,250.21 L648.66,251.27 L648.70,252.33 L648.73,253.39 L648.77,254.44 L648.81,255.50 L648.85,256.56 L648.88,257.62 L648.92,258.68 L648.96,259.73 L648.99,260.79 L649.03,261.85 L649.06,262.91 L649.10,263.97 L649.13,265.02 L649.17,266.08 L649.20,267.14 L649.24,268.20 L649.27,269.26 L649.30,270.31 L649.34,271.37 L649.37,272.43 L649.40,273.49 L649.43,274.55 L649.47,275.60 L649.50,276.66 L649.53,277.72 L649.56,278.78 L649.60,279.84 L649.63,280.89 L649.66,281.95 L649.69,283.01 L649.72,284.07 L649.75,285.13 L649.78,286.18 L649.81,287.24 L649.84,288.30 L649.87,289.36 L649.90,290.42 L649.93,291.47 L649.96,292.53 L649.99,293.59 L650.02,294.65 L650.05,295.71 L650.08,296.76 L650.11,297.82 L650.14,298.88 L650.17,299.94 L650.20,301.00 L650.22,302.05 L650.25,303.11 L650.28,304.17 L650.31,305.23 L650.34,306.29 L650.36,307.34 L650.39,308.40 L650.42,309.46 L650.45,310.52 L650.47,311.58 L650.50,312.64 L650.53,313.69 L650.56,314.75 L650.58,315.81 L650.61,316.87 L650.64,317.93 L650.66,318.98 L650.69,320.04 L650.72,321.10 L650.74,322.16 L650.77,323.22 L650.79,324.28 L650.82,325.33 L650.85,326.39 L650.87,327.45 L650.90,328.51 L650.92,329.57 L650.95,330.62 L650.97,331.68 L651.00,332.74 L651.02,333.80 L651.05,334.86 L651.07,335.92 L651.10,336.97 L651.12,338.03 L651.15,339.09 L651.17,340.15 L651.20,341.21 L651.22,342.26 L651.25,343.32 L651.27,344.38 L651.29,345.44 L651.32,346.50 L651.34,347.56 L651.37,348.61 L651.39,349.67 L651.41,350.73 L651.44,351.79 L651.46,352.85 L651.49,353.91 L651.51,354.96 L651.53,356.02 L651.56,357.08 L651.58,358.14 L651.60,359.20 L651.63,360.25 L651.65,361.31 L651.67,362.37 L651.70,363.43 L651.72,364.49 L651.74,365.55 L651.77,366.60 L651.79,367.66 L651.81,368.72 L651.84,369.78 L651.86,370.84 L651.88,371.90 L651.91,372.95 L651.93,374.01 L651.95,375.07 L651.97,376.13 L652.00,377.19 L652.02,378.24 L652.04,379.30 L652.07,380.36 L652.09,381.42 L652.11,382.48 L652.13,383.54 L652.15,384.59 L652.18,385.65 L652.20,386.71 L652.22,387.77 L652.24,388.83 L652.27,389.89 L652.29,390.94 L652.31,392.00 L652.33,393.06 L652.35,394.12 L652.37,395.18 L652.40,396.23 L652.42,397.29 L652.44,398.35 L652.46,399.41 L652.48,400.47 L652.50,401.53 L652.53,402.58 L652.55,403.64 L652.57,404.70 L652.59,405.76 L652.61,406.82 L652.63,407.88 L652.65,408.93 L652.67,409.99 L652.69,411.05 L652.71,412.11 L652.73,413.17 L652.75,414.23 L652.78,415.28 L652.80,416.34 L652.82,417.40 L652.84,418.46 L652.86,419.52 L652.88,420.58 L652.90,421.63 L652.92,422.69 L652.94,423.75 L652.96,424.81 L652.98,425.87 L653.00,426.93 L653.02,427.98 L653.04,429.04 L653.06,430.10 L653.07,431.16 L653.09,432.22 L653.11,433.27 L653.13,434.33 L653.15,435.39 L653.17,436.45 L653.19,437.51 L653.21,438.57 L653.23,439.62 L653.25,440.68 L653.26,441.74 L653.28,442.80 L653.30,443.86 L653.32,444.92 L653.34,445.97 L653.36,447.03 L653.38,448.09 L653.39,449.15 L653.41,450.21 L653.43,451.27 L653.45,452.32 L653.46,453.38 L653.48,454.44 L653.50,455.50" stroke="#fcc731" stroke-opacity="0.9" stroke-width="2.45"/>
<path d="M146.60,309.40 L149.39,309.39 L152.17,309.34 L154.96,309.27 L157.74,309.17 L160.53,309.04 L163.31,308.88 L166.10,308.69 L168.88,308.48 L171.67,308.24 L174.45,307.98 L177.24,307.69 L180.02,307.37 L182.81,307.03 L185.59,306.66 L188.38,306.27 L191.16,305.86 L193.95,305.42 L196.73,304.96 L199.52,304.48 L202.30,303.97 L205.09,303.45 L207.87,302.90 L210.66,302.33 L213.44,301.74 L216.23,301.12 L219.01,300.49 L221.80,299.84 L224.58,299.17 L227.37,298.48 L230.15,297.77 L232.94,297.05 L235.73,296.30 L238.51,295.54 L241.30,294.76 L244.08,293.96 L246.87,293.15 L249.65,292.32 L252.44,291.48 L255.22,290.62 L258.01,289.74 L260.79,288.85 L263.58,287.95 L266.36,287.03 L269.15,286.10 L271.93,285.15 L274.72,284.19 L277.50,283.22 L280.29,282.24 L283.07,281.24 L285.86,280.23 L288.64,279.21 L291.43,278.18 L294.21,277.14 L297.00,276.09 L299.78,275.03 L302.57,273.96 L305.35,272.88 L308.14,271.79 L310.92,270.69 L313.71,269.58 L316.49,268.46 L319.28,267.34 L322.06,266.21 L324.85,265.07 L327.64,263.92 L330.42,262.77 L333.21,261.61 L335.99,260.44 L338.78,259.27 L341.56,258.09 L344.35,256.91 L347.13,255.72 L349.92,254.53 L352.70,253.34 L355.49,252.14 L358.27,250.93 L361.06,249.72 L363.84,248.51 L366.63,247.30 L369.41,246.08 L372.20,244.86 L374.98,243.64 L377.77,242.41 L380.55,241.19 L383.34,239.96 L386.12,238.73 L388.91,237.50 L391.69,236.27 L394.48,235.04 L397.26,233.81 L400.05,232.58 L402.83,231.35 L405.62,230.12 L408.40,228.89 L411.19,227.66 L413.98,226.44 L416.76,225.21 L419.55,223.99 L422.33,222.77 L425.12,221.55 L427.90,220.33 L430.69,219.12 L433.47,217.91 L436.26,216.70 L439.04,215.50 L441.83,214.30 L444.61,213.10 L447.40,211.91 L450.18,210.72 L452.97,209.54 L455.75,208.36 L458.54,207.19 L461.32,206.02 L464.11,204.85 L466.89,203.70 L469.68,202.54 L472.46,201.40 L475.25,200.26 L478.03,199.13 L480.82,198.00 L483.60,196.88 L486.39,195.77 L489.17,194.66 L491.96,193.56 L494.74,192.47 L497.53,191.39 L500.32,190.31 L503.10,189.25 L505.89,188.19 L508.67,187.14 L511.46,186.09 L514.24,185.06 L517.03,184.04 L519.81,183.02 L522.60,182.02 L525.38,181.02 L528.17,180.03 L530.95,179.06 L533.74,178.09 L536.52,177.13 L539.31,176.18 L542.09,175.25 L544.88,174.32 L547.66,173.41 L550.45,172.50 L553.23,171.61 L556.02,170.73 L558.80,169.86 L561.59,169.00 L564.37,168.15 L567.16,167.31 L569.94,166.49 L572.73,165.67 L575.51,164.87 L578.30,164.08 L581.08,163.31 L583.87,162.54 L586.65,161.79 L589.44,161.05 L592.23,160.33 L595.01,159.61 L597.80,158.91 L600.58,158.23 L603.37,157.55 L606.15,156.89 L608.94,156.24 L611.72,155.61 L614.51,154.99 L617.29,154.38 L620.08,153.79 L622.86,153.21 L625.65,152.64 L628.43,152.09 L631.22,151.56 L634.00,151.03 L636.79,150.52 L639.57,150.03 L642.36,149.55 L645.14,149.08 L647.93,148.63 L650.71,148.20 L653.50,147.77 L656.28,147.37 L659.07,146.97 L661.85,146.60 L664.64,146.24 L667.42,145.89 L670.21,145.56 L672.99,145.24 L675.78,144.94 L678.57,144.65 L681.35,144.38 L684.14,144.12 L686.92,143.88 L689.71,143.65 L692.49,143.44 L695.28,143.25 L698.06,143.07 L700.85,142.90 L703.63,142.75 L706.42,142.62 L709.20,142.50 L711.99,142.40 L714.77,142.31 L717.56,142.24 L720.34,142.18 L723.13,142.14 L725.91,142.12 L728.70,142.11 L731.48,142.11 L734.27,142.14 L737.05,142.17 L739.84,142.23 L742.62,142.29 L745.41,142.38 L748.19,142.48 L750.98,142.59 L753.76,142.72 L756.55,142.87 L759.33,143.03 L762.12,143.21 L764.91,143.40 L767.69,143.61 L770.48,143.83 L773.26,144.07 L776.05,144.32 L778.83,144.59 L781.62,144.87 L784.40,145.17 L787.19,145.49 L789.97,145.82 L792.76,146.16 L795.54,146.52 L798.33,146.89 L801.11,147.28 L803.90,147.68 L806.68,148.10 L809.47,148.53 L812.25,148.98 L815.04,149.44 L817.82,149.92 L820.61,150.41 L823.39,150.91 L826.18,151.43 L828.96,151.96 L831.75,152.51 L834.53,153.07 L837.32,153.65 L840.10,154.23 L842.89,154.84 L845.67,155.45 L848.46,156.08 L851.24,156.72 L854.03,157.38 L856.82,158.04 L859.60,158.73 L862.39,159.42 L865.17,160.13 L867.96,160.85 L870.74,161.58 L873.53,162.32 L876.31,163.08 L879.10,163.85 L881.88,164.63 L884.67,165.42 L887.45,166.22 L890.24,167.04 L893.02,167.87 L895.81,168.70 L898.59,169.55 L901.38,170.41 L904.16,171.29 L906.95,172.17 L909.73,173.06 L912.52,173.96 L915.30,174.88 L918.09,175.80 L920.87,176.73 L923.66,177.67 L926.44,178.63 L929.23,179.59 L932.01,180.56 L934.80,181.54 L937.58,182.53 L940.37,183.52 L943.16,184.53 L945.94,185.54 L948.73,186.56 L951.51,187.59 L954.30,188.63 L957.08,189.67 L959.87,190.72 L962.65,191.78 L965.44,192.85 L968.22,193.92 L971.01,195.00 L973.79,196.08 L976.58,197.17 L979.36,198.26" stroke="#000" stroke-width="3.7" stroke-dasharray="9.5 9.1"/>
</g>
<path d="M637.50,95.50 L646.10,104.10 M637.50,104.10 L646.10,95.50" stroke="#000" stroke-width="3.5" fill="none"/>
<path d="M642.60,109.10 L651.20,117.70 M642.60,117.70 L651.20,109.10" stroke="#000" stroke-width="3.5" fill="none"/>
<text x="146.15" y="486" font-size="30.6" text-anchor="middle">0</text>
<text x="312.40" y="486" font-size="30.6" text-anchor="middle">1</text>
<text x="478.65" y="486" font-size="30.6" text-anchor="middle">2</text>
<text x="644.90" y="486" font-size="30.6" text-anchor="middle">3</text>
<text x="811.15" y="486" font-size="30.6" text-anchor="middle">4</text>
<text x="977.40" y="486" font-size="30.6" text-anchor="middle">5</text>
<text x="134.6" y="30.82" font-size="30.6" text-anchor="end">1</text>
<text x="134.4" y="175.42" font-size="30.6" text-anchor="end">0.5</text>
<text x="134.4" y="320.02" font-size="30.6" text-anchor="end">0</text>
<text x="134.4" y="463.8" font-size="30.6" text-anchor="end">0.5</text>
<line x1="74.4" y1="455.3" x2="93.4" y2="455.3" stroke="#000" stroke-width="1.25"/>
<text x="561.4" y="526.2" font-size="36.5" class="it" text-anchor="middle">t</text>
<g transform="translate(43.0 271.3) rotate(-90)">
<polyline points="5.7,-23.7 0,-8.4 5.7,6.9" fill="none" stroke="#000" stroke-width="1.25"/>
<polyline points="63.2,-23.7 68.9,-8.4 63.2,6.9" fill="none" stroke="#000" stroke-width="1.25"/>
<text x="9.6" y="0" font-size="31" class="it">σ</text>
<text x="28.4" y="4.1" font-size="21.5" class="it">z</text>
<text x="28.2" y="-15.6" font-size="26" class="th">(</text>
<text x="37.0" y="-16.1" font-size="21.5">1</text>
<text x="49.3" y="-15.6" font-size="26" class="th">)</text>
</g>
<rect x="165.45" y="359.35" width="793.25" height="88.95" fill="#fff" stroke="#000" stroke-width="1.3"/>
<line x1="176.0" y1="385.0" x2="229.1" y2="385.0" stroke="#471271" stroke-opacity="0.9" stroke-width="2.45"/>
<line x1="381.8" y1="385.0" x2="434.90000000000003" y2="385.0" stroke="#7c2374" stroke-opacity="0.9" stroke-width="2.45"/>
<line x1="588.0" y1="385.0" x2="641.1" y2="385.0" stroke="#b23862" stroke-opacity="0.9" stroke-width="2.45"/>
<line x1="778.9" y1="385.0" x2="832.0" y2="385.0" stroke="#df553d" stroke-opacity="0.9" stroke-width="2.45"/>
<line x1="176.0" y1="423.05" x2="229.1" y2="423.05" stroke="#f88716" stroke-opacity="0.9" stroke-width="2.45"/>
<line x1="381.8" y1="423.05" x2="434.90000000000003" y2="423.05" stroke="#fcc731" stroke-opacity="0.9" stroke-width="2.45"/>
<line x1="588.0" y1="423.05" x2="641.1" y2="423.05" stroke="#000" stroke-width="3.7" stroke-dasharray="9.4 9.2"/>
<text x="264.00" y="392.6" font-size="31.3" class="it" textLength="24.4" lengthAdjust="spacingAndGlyphs">N</text><line x1="300.80" y1="382.40" x2="322.00" y2="382.40" stroke="#000" stroke-width="1.25"/><line x1="300.80" y1="387.90" x2="322.00" y2="387.90" stroke="#000" stroke-width="1.25"/><text x="332.00" y="392.6" font-size="30.6">1</text>
<text x="256.20" y="430.9" font-size="31.3" class="it" textLength="24.4" lengthAdjust="spacingAndGlyphs">N</text><line x1="293.00" y1="420.70" x2="314.20" y2="420.70" stroke="#000" stroke-width="1.25"/><line x1="293.00" y1="426.20" x2="314.20" y2="426.20" stroke="#000" stroke-width="1.25"/><text x="324.20" y="430.9" font-size="30.6">10</text>
<text x="469.60" y="392.6" font-size="31.3" class="it" textLength="24.4" lengthAdjust="spacingAndGlyphs">N</text><line x1="506.40" y1="382.40" x2="527.60" y2="382.40" stroke="#000" stroke-width="1.25"/><line x1="506.40" y1="387.90" x2="527.60" y2="387.90" stroke="#000" stroke-width="1.25"/><text x="537.60" y="392.6" font-size="30.6">2</text>
<text x="462.20" y="430.9" font-size="31.3" class="it" textLength="24.4" lengthAdjust="spacingAndGlyphs">N</text><line x1="499.00" y1="420.70" x2="520.20" y2="420.70" stroke="#000" stroke-width="1.25"/><line x1="499.00" y1="426.20" x2="520.20" y2="426.20" stroke="#000" stroke-width="1.25"/><text x="530.20" y="430.9" font-size="30.6">20</text>
<text x="669.30" y="392.6" font-size="31.3" class="it" textLength="24.4" lengthAdjust="spacingAndGlyphs">N</text><line x1="706.10" y1="382.40" x2="727.30" y2="382.40" stroke="#000" stroke-width="1.25"/><line x1="706.10" y1="387.90" x2="727.30" y2="387.90" stroke="#000" stroke-width="1.25"/><text x="737.30" y="392.6" font-size="30.6">3</text>
<text x="859.40" y="392.6" font-size="31.3" class="it" textLength="24.4" lengthAdjust="spacingAndGlyphs">N</text><line x1="896.20" y1="382.40" x2="917.40" y2="382.40" stroke="#000" stroke-width="1.25"/><line x1="896.20" y1="387.90" x2="917.40" y2="387.90" stroke="#000" stroke-width="1.25"/><text x="927.40" y="392.6" font-size="30.6">4</text>
<text x="675.0" y="430.9" font-size="30.6" textLength="70.2" lengthAdjust="spacingAndGlyphs">exact</text>
</svg></body></html>
